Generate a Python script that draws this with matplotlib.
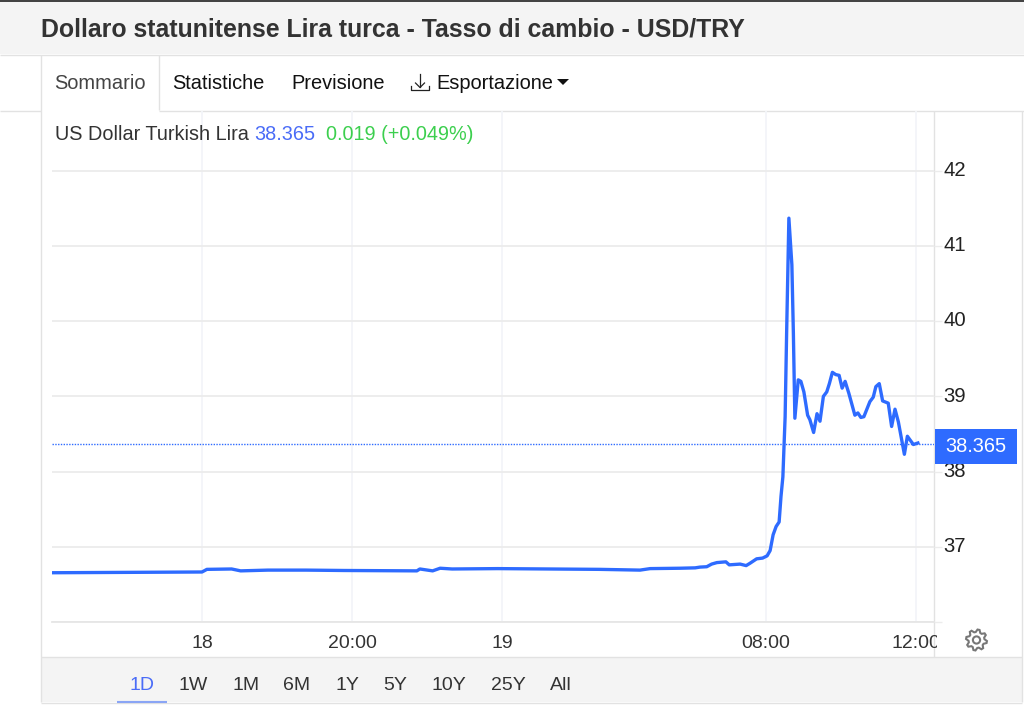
import numpy as np
import matplotlib
matplotlib.use("Agg")
import matplotlib.pyplot as plt
from matplotlib.patches import Rectangle, Polygon, Circle
from matplotlib.transforms import ScaledTranslation

# x is in chart slots (the axis squeezes the overnight gap), 1 slot = 1 trading hour
slots = [-4.00, 0.00, 0.13, 0.79, 1.03, 1.76, 2.77, 3.79, 5.73, 5.81, 6.15, 6.35, 6.67, 7.88, 10.61,
         11.68, 11.95, 12.75, 13.15, 13.28, 13.46, 13.59, 13.73, 13.97, 14.06, 14.35, 14.51, 14.61,
         14.79, 14.95, 15.07, 15.15, 15.23, 15.31, 15.39, 15.44, 15.49, 15.55, 15.59, 15.65, 15.73,
         15.77, 15.81, 15.90, 15.97, 16.05, 16.15, 16.21, 16.31, 16.40, 16.48, 16.57, 16.66, 16.73,
         16.81, 16.90, 16.99, 17.07, 17.15, 17.25, 17.41, 17.49, 17.57, 17.65, 17.81, 17.90, 17.97,
         18.06, 18.15, 18.30, 18.39, 18.48, 18.57, 18.73, 18.81, 18.97, 19.09]
usd_try = [36.655, 36.665, 36.70, 36.705, 36.68, 36.69, 36.69, 36.685, 36.68, 36.705, 36.68, 36.715, 36.705, 36.71, 36.70,
           36.69, 36.71, 36.715, 36.72, 36.73, 36.735, 36.77, 36.79, 36.80, 36.76, 36.77, 36.75, 36.78,
           36.84, 36.85, 36.88, 36.95, 37.16, 37.27, 37.33, 37.67, 37.93, 38.73, 39.84, 41.37, 40.75,
           39.84, 38.71, 39.22, 39.20, 39.06, 38.75, 38.69, 38.52, 38.77, 38.67, 39.00, 39.06, 39.17,
           39.32, 39.29, 39.28, 39.11, 39.20, 39.04, 38.75, 38.78, 38.72, 38.73, 38.93, 38.99, 39.13,
           39.17, 38.94, 38.91, 38.60, 38.83, 38.66, 38.23, 38.47, 38.36, 38.38]
last_price = 38.365

x_ticks = [0, 4, 8, 15.04, 19.04]
x_labels = ["18", "20:00", "19", "08:00", "12:00"]
y_ticks = [36, 37, 38, 39, 40, 41, 42]
y_labels = ["", "37", "38", "39", "40", "41", "42"]
tabs = ["Statistiche", "Previsione", "Esportazione"]
ranges = ["1D", "1W", "1M", "6M", "1Y", "5Y", "10Y", "25Y", "All"]

plt.rcParams["font.family"] = ["Liberation Sans", "DejaVu Sans"]
BLUE = "#2e6bff"
W, H = 1024, 705

fig = plt.figure(figsize=(10.24, 7.05), dpi=100)

# page furniture, drawn in pixel coordinates
bg = fig.add_axes([0, 0, 1, 1], zorder=0)
bg.set_xlim(0, W)
bg.set_ylim(H, 0)
bg.axis("off")
bg.add_patch(Rectangle((0, 0), W, 2, color="#444444", lw=0))
bg.add_patch(Rectangle((0, 2), W, 52, color="#f4f4f4", lw=0))
bg.add_patch(Rectangle((41, 657), 981, 45, color="#f4f4f4", lw=0))
for xs, ys in [([0, W], [54.5, 54.5]), ([0, 41], [110.5, 110.5]), ([159, W], [110.5, 110.5]),
               ([41, 41], [55, 702]), ([159, 159], [55, 110]), ([41, 1022], [657, 657]),
               ([41, 1022], [702.5, 702.5]), ([1022, 1022], [111, 702]), ([934, 934], [111, 657])]:
    bg.plot(xs, ys, color="#e2e2e2", lw=1, solid_capstyle="butt")

bg.text(41, 29.5, "Dollaro statunitense Lira turca - Tasso di cambio - USD/TRY", fontsize=17.9,
        fontweight="bold", color="#333333", va="center")
bg.text(54.5, 83.5, "Sommario", fontsize=14.4, color="#444444", va="center")
bg.text(172.5, 83.5, tabs[0], fontsize=14.4, color="#111111", va="center")
bg.text(291, 83.5, tabs[1], fontsize=14.4, color="#111111", va="center")
bg.text(436, 83.5, tabs[2], fontsize=14.4, color="#111111", va="center")

# export icon and dropdown caret
bg.plot([420, 420], [74, 87], color="#222222", lw=0.9)
bg.plot([415.5, 420, 424.5], [83, 87.5, 83], color="#222222", lw=0.9)
bg.plot([411, 411, 429, 429], [86, 90, 90, 86], color="#222222", lw=0.9)
bg.add_patch(Polygon([[557, 79], [569, 79], [563, 85]], color="#111111", lw=0))

# settings gear
teeth = 8
angles = np.linspace(0, 2 * np.pi, teeth * 4, endpoint=False) + np.pi / teeth / 4
radii = np.tile([10.5, 10.5, 8, 8], teeth)
bg.add_patch(Polygon(np.column_stack([976.5 + radii * np.cos(angles), 640 + radii * np.sin(angles)]),
                     fill=False, ec="#777777", lw=1.5))
bg.add_patch(Circle((976.5, 640), 3.6, fill=False, ec="#777777", lw=1.5))

range_x = [142, 193, 246, 297, 347, 395, 449, 508, 561]
for lab, rx in zip(ranges, range_x):
    bg.text(rx, 685, lab, fontsize=14, ha="center", va="center",
            color="#4a6cf7" if lab == "1D" else "#333333")
bg.plot([117, 167], [701.5, 701.5], color="#8aa5f5", lw=1.5, solid_capstyle="butt")

# the chart itself
ax = fig.add_axes([52 / W, 1 - 622 / H, (934 - 52) / W, (622 - 111) / H], zorder=1)
ax.patch.set_alpha(0)
ax.plot(slots, usd_try, color=BLUE, lw=2.4, solid_joinstyle="round", zorder=3)
ax.axhline(last_price, color=BLUE, lw=1, ls=(0, (1, 1)), zorder=2)

ax.set_xlim(-4, 19.52)
ax.set_ylim(36, 36 + (622 - 111) / 75.2)
ax.set_xticks(x_ticks, x_labels)
ax.set_yticks(y_ticks, y_labels)
ax.yaxis.tick_right()
ax.grid(axis="y", color="#ececec", lw=1.3)
ax.grid(axis="x", color="#f3f5f9", lw=1.3)
ax.set_axisbelow(True)
for name, spine in ax.spines.items():
    spine.set_visible(name == "bottom")
ax.spines["bottom"].set_color("#e6e6e6")
ax.spines["bottom"].set_linewidth(1.3)
ax.tick_params(axis="y", length=6, width=1, color="#ececec", pad=0.5, labelsize=14.6, labelcolor="#222222")
ax.tick_params(axis="x", length=0, pad=9, labelsize=14, labelcolor="#333333")

# y labels sit a little above their gridlines
nudge = ScaledTranslation(0, 2.4 / 100, fig.dpi_scale_trans)
for lab in ax.get_yticklabels():
    lab.set_transform(lab.get_transform() + nudge)

# the last time label runs off the plot and gets cut at the panel edge
clip = Rectangle((0, 0), 937, H, transform=None)
for lab in ax.get_xticklabels():
    lab.set_clip_path(clip)
    lab.set_clip_on(True)

# series caption and price flag go on top of the gridlines
top = fig.add_axes([0, 0, 1, 1], zorder=2)
top.set_xlim(0, W)
top.set_ylim(H, 0)
top.axis("off")
top.add_patch(Rectangle((935, 429), 82, 35, color=BLUE, lw=0))
top.text(975.5, 447, f"{last_price:.3f}", fontsize=14.4, color="white", ha="center", va="center")
top.text(55, 135, "US Dollar Turkish Lira", fontsize=14.3, color="#333333", va="center")
top.text(254, 135, "38.365", fontsize=14.3, color="#4a6cf7", va="center")
top.text(326, 135, "0.019 (+0.049%)", fontsize=14.3, color="#3ccf4e", va="center")

fig.savefig("out.png", dpi=100)
